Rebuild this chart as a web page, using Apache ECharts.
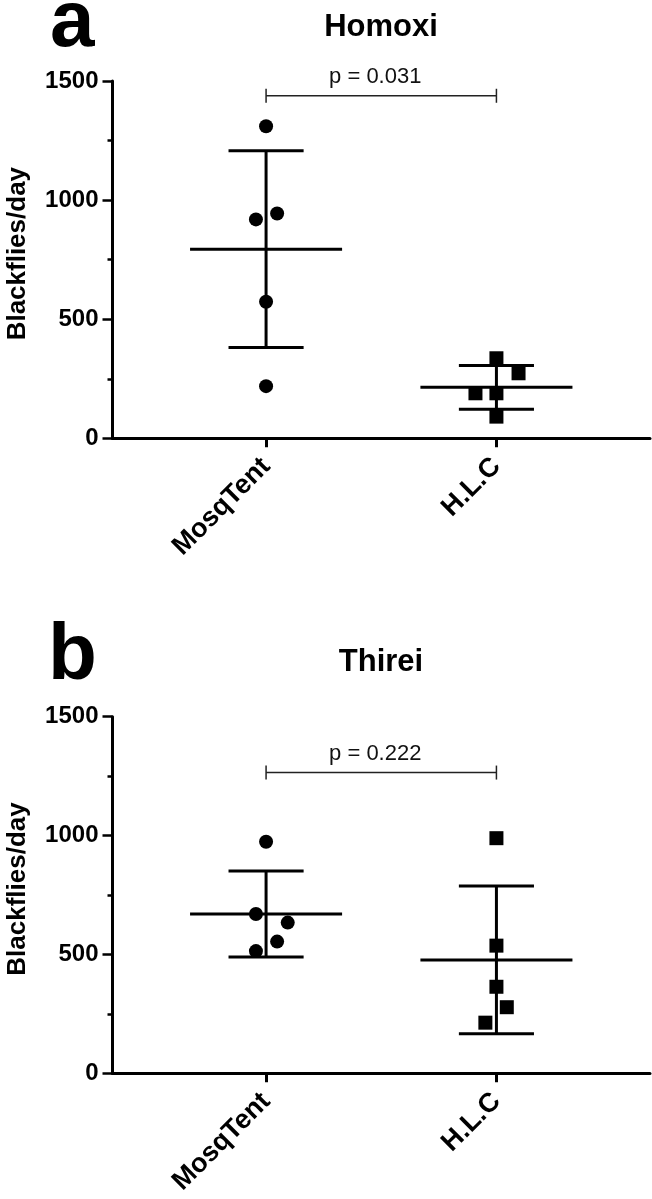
<!DOCTYPE html>
<html><head><meta charset="utf-8">
<script src="https://cdn.jsdelivr.net/npm/echarts@6/dist/echarts.min.js"></script>
<style>html,body{margin:0;padding:0;background:#fff}#c{width:652px;height:1199px}</style>
</head><body><div id="c"></div>
<script>
// ---------- data ----------
const categories = ['MosqTent', 'H.L.C'];
const yTicks = [0, 500, 1000, 1500];
const panelTitles = ['Homoxi', 'Thirei'];
const panelLetters = ['a', 'b'];

// Panel a: Homoxi
const homoxiMosqTent = [1310, 944, 919, 573, 219];
const homoxiMosqTentJitter = [0, 0.048, -0.044, 0, 0];
const homoxiHLC = [336, 273, 189, 189, 91];
const homoxiHLCJitter = [0, 0.096, -0.091, 0, 0];
const homoxiMean = [794, 214];
const homoxiSD = [413, 92];
const homoxiP = 'p = 0.031';
const homoxiBracketY = 1438;

// Panel b: Thirei
const thireiMosqTent = [974, 670, 634, 554, 514];
const thireiMosqTentJitter = [0, -0.044, 0.094, 0.048, -0.044];
const thireiHLC = [989, 537, 364, 278, 213];
const thireiHLCJitter = [0, 0, 0, 0.045, -0.048];
const thireiMean = [670, 477];
const thireiSD = [181, 311];
const thireiP = 'p = 0.222';
const thireiBracketY = 1265;

// ---------- chart ----------
const FONT = '"Liberation Sans", Arial, Helvetica, sans-serif';
const MEAN_HALF = 0.33;   // half width of mean bar, in category units
const CAP_HALF = 0.163;   // half width of SD caps, in category units

function pts(values, jitter, catIndex) {
  return values.map((v, i) => [catIndex + 1 + jitter[i], v]);
}

function meanSdRender(params, api) {
  const x = api.value(0), m = api.value(1), s = api.value(2);
  const c = api.coord([x, m]);
  const top = api.coord([x, m + s]);
  const bot = api.coord([x, m - s]);
  const hw = api.size([MEAN_HALF, 0])[0];
  const cw = api.size([CAP_HALF, 0])[0];
  const st = { stroke: '#000', lineWidth: 3 };
  return {
    type: 'group',
    children: [
      { type: 'line', shape: { x1: c[0] - hw, y1: c[1], x2: c[0] + hw, y2: c[1] }, style: st },
      { type: 'line', shape: { x1: c[0], y1: top[1], x2: c[0], y2: bot[1] }, style: st },
      { type: 'line', shape: { x1: c[0] - cw, y1: top[1], x2: c[0] + cw, y2: top[1] }, style: st },
      { type: 'line', shape: { x1: c[0] - cw, y1: bot[1], x2: c[0] + cw, y2: bot[1] }, style: st }
    ]
  };
}

function bracketRender(label) {
  return function (params, api) {
    const a = api.coord([api.value(0), api.value(2)]);
    const b = api.coord([api.value(1), api.value(2)]);
    const st = { stroke: '#222', lineWidth: 1.5 };
    return {
      type: 'group',
      children: [
        { type: 'line', shape: { x1: a[0], y1: a[1], x2: b[0], y2: b[1] }, style: st },
        { type: 'line', shape: { x1: a[0], y1: a[1] - 7, x2: a[0], y2: a[1] + 7 }, style: st },
        { type: 'line', shape: { x1: b[0], y1: b[1] - 7, x2: b[0], y2: b[1] + 7 }, style: st },
        { type: 'text', style: { x: (a[0] + b[0]) / 2 - 6, y: a[1] - 19, text: label,
          align: 'center', verticalAlign: 'middle', font: '22px ' + FONT, fill: '#111' } }
      ]
    };
  };
}

const grids = [
  { left: 112.5, right: 2, top: 81, height: 357.3, outerBoundsMode: 'none', containLabel: false },
  { left: 112.5, right: 2, top: 716.7, height: 356.6, outerBoundsMode: 'none', containLabel: false }
];

function xAxis(gi) {
  return {
    type: 'value', gridIndex: gi, min: 1 / 3, max: 8 / 3,
    axisLine: { show: true, onZero: false, lineStyle: { color: '#000', width: 3 } },
    axisTick: { show: true, customValues: [1, 2], length: 9, lineStyle: { color: '#000', width: 3 } },
    axisLabel: { show: true, customValues: [1, 2], rotate: 45, margin: 24,
      formatter: v => categories[Math.round(v) - 1] || '',
      color: '#000', fontWeight: 'bold', fontSize: 27, fontFamily: FONT },
    splitLine: { show: false }
  };
}

function yAxis(gi) {
  return {
    type: 'value', gridIndex: gi, min: yTicks[0], max: yTicks[yTicks.length - 1], interval: 500,
    name: 'Blackflies/day', nameLocation: 'middle', nameRotate: 90, nameGap: 82,
    nameTextStyle: { color: '#000', fontWeight: 'bold', fontSize: 26, fontFamily: FONT,
      padding: [0, 0, 0, 12] },
    axisLine: { show: true, lineStyle: { color: '#000', width: 3 } },
    axisTick: { show: true, length: 10, lineStyle: { color: '#000', width: 2.5 } },
    minorTick: { show: true, splitNumber: 2, length: 5, lineStyle: { color: '#000', width: 2.5 } },
    axisLabel: { margin: 14, color: '#000', fontWeight: 'bold', fontSize: 24, fontFamily: FONT,
      formatter: v => String(v) },
    splitLine: { show: false }
  };
}

function panelSeries(gi, mosq, mosqJ, hlc, hlcJ, mean, sd, pLabel, bracketY) {
  return [
    { type: 'scatter', xAxisIndex: gi, yAxisIndex: gi, symbol: 'circle', symbolSize: 14,
      itemStyle: { color: '#000', opacity: 1 }, data: pts(mosq, mosqJ, 0), z: 3 },
    { type: 'scatter', xAxisIndex: gi, yAxisIndex: gi, symbol: 'rect', symbolSize: 14,
      itemStyle: { color: '#000', opacity: 1 }, data: pts(hlc, hlcJ, 1), z: 3 },
    { type: 'custom', xAxisIndex: gi, yAxisIndex: gi, renderItem: meanSdRender,
      encode: { x: 0, y: 1 }, data: mean.map((m, i) => [i + 1, m, sd[i]]), z: 4 },
    { type: 'custom', xAxisIndex: gi, yAxisIndex: gi, renderItem: bracketRender(pLabel),
      encode: { x: [0, 1], y: 2 }, data: [[1, 2, bracketY]], z: 4 }
  ];
}

const chart = echarts.init(document.getElementById('c'), null, { renderer: 'canvas' });
chart.setOption({
  backgroundColor: '#fff',
  animation: false,
  title: [
    { text: panelTitles[0], left: 381, top: 12, textAlign: 'center', padding: 0,
      textStyle: { color: '#000', fontWeight: 'bold', fontSize: 31, fontFamily: FONT } },
    { text: panelTitles[1], left: 381, top: 647, textAlign: 'center', padding: 0,
      textStyle: { color: '#000', fontWeight: 'bold', fontSize: 31, fontFamily: FONT } }
  ],
  graphic: [
    { type: 'text', x: 50, y: 24, style: { text: panelLetters[0], font: 'bold 80px ' + FONT,
      fill: '#000', align: 'left', verticalAlign: 'middle' } },
    { type: 'text', x: 48, y: 657, style: { text: panelLetters[1], font: 'bold 80px ' + FONT,
      fill: '#000', align: 'left', verticalAlign: 'middle' } }
  ],
  grid: grids,
  xAxis: [xAxis(0), xAxis(1)],
  yAxis: [yAxis(0), yAxis(1)],
  series: [
    ...panelSeries(0, homoxiMosqTent, homoxiMosqTentJitter, homoxiHLC, homoxiHLCJitter,
      homoxiMean, homoxiSD, homoxiP, homoxiBracketY),
    ...panelSeries(1, thireiMosqTent, thireiMosqTentJitter, thireiHLC, thireiHLCJitter,
      thireiMean, thireiSD, thireiP, thireiBracketY)
  ]
});
</script>
</body></html>
